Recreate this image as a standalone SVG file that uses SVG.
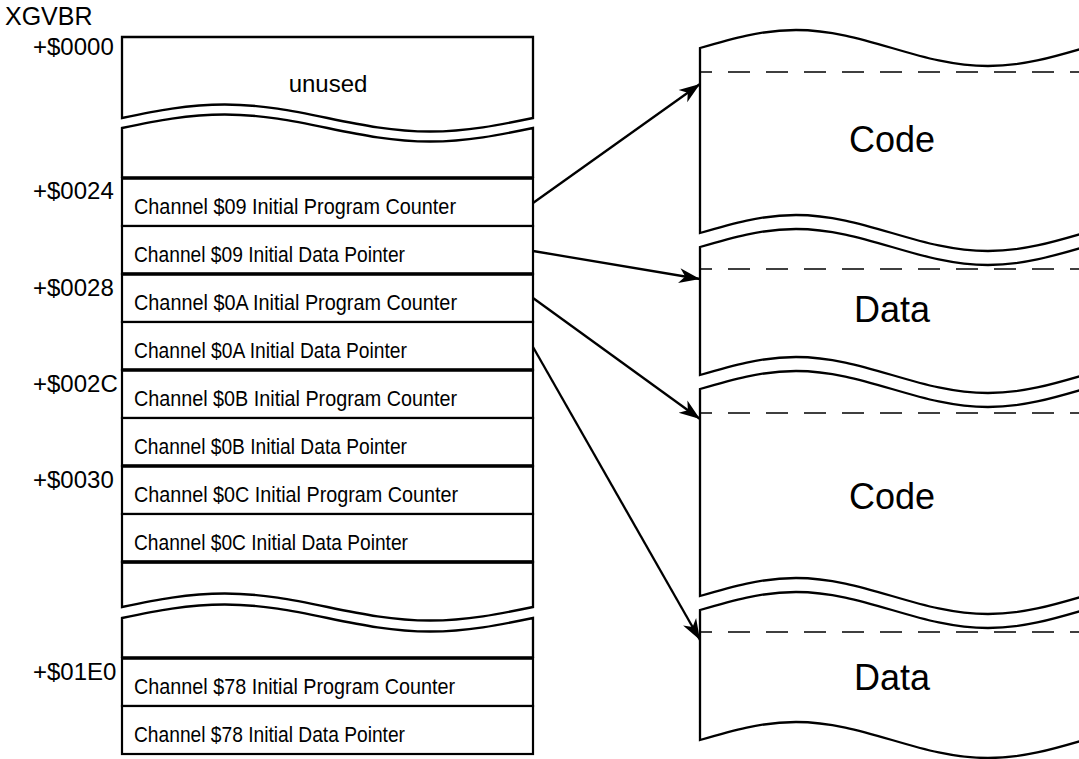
<svg xmlns="http://www.w3.org/2000/svg" width="1079" height="759" viewBox="0 0 1079 759">
<style>
  .ln { fill: none; stroke: #000; stroke-width: 2.3; stroke-linejoin: miter; }
  .box { fill: #fff; stroke: #000; stroke-width: 2.2; }
  .thick { stroke: #000; stroke-width: 3.4; }
  .dash { stroke: #000; stroke-width: 1.5; stroke-dasharray: 22 16; stroke-dashoffset: 10; fill: none; }
  .addr { font-family: "Liberation Sans", Arial, Helvetica, sans-serif; font-size: 24px; fill: #000; }
  .cell { font-family: "Liberation Sans", Arial, Helvetica, sans-serif; font-size: 22px; fill: #000; }
  .big { font-family: "Liberation Sans", Arial, Helvetica, sans-serif; font-size: 36px; fill: #000; text-anchor: middle; }
  .conn { stroke: #000; stroke-width: 2.3; fill: none; marker-end: url(#ah); }
</style>
<defs>
  <marker id="ah" markerUnits="userSpaceOnUse" markerWidth="26" markerHeight="18" refX="21" refY="9" orient="auto" viewBox="0 0 26 18">
    <path d="M0,1.5 L21,9 L0,16.5 L6,9 Z" fill="#000"/>
  </marker>
</defs>
<rect width="1079" height="759" fill="#fff"/>

<text x="5" y="25" class="addr" style="font-size:25px">XGVBR</text>

<g id="table">
  <g id="seg-unused">
    <path class="ln" d="M122,118 V37 H533 V118 C499.45,124.92 467.45,131.5 430.25,131.5 C393.1,131.5 361,124.92 327.5,118 C293.95,111.08 261.95,104.5 224.75,104.5 C187.6,104.5 155.5,111.08 122,118 Z"/>
    <text x="328" y="92" class="addr" text-anchor="middle">unused</text>
  </g>
  <g id="seg-gap1">
    <path class="ln" d="M122,178 V128 C155.5,121.08 187.6,114.5 224.75,114.5 C261.95,114.5 293.95,121.08 327.5,128 C361,134.92 393.1,141.5 430.25,141.5 C467.45,141.5 499.45,134.92 533,128 V178"/>
  </g>
  <g id="row-09-pc"><rect class="box" x="122" y="178" width="411" height="48"/><text class="cell" x="134" y="214" textLength="322" lengthAdjust="spacingAndGlyphs">Channel $09 Initial Program Counter</text></g>
  <g id="row-09-dp"><rect class="box" x="122" y="226" width="411" height="48"/><text class="cell" x="134" y="262" textLength="271" lengthAdjust="spacingAndGlyphs">Channel $09 Initial Data Pointer</text></g>
  <g id="row-0a-pc"><rect class="box" x="122" y="274" width="411" height="48"/><text class="cell" x="134" y="310" textLength="323" lengthAdjust="spacingAndGlyphs">Channel $0A Initial Program Counter</text></g>
  <g id="row-0a-dp"><rect class="box" x="122" y="322" width="411" height="48"/><text class="cell" x="134" y="358" textLength="273" lengthAdjust="spacingAndGlyphs">Channel $0A Initial Data Pointer</text></g>
  <g id="row-0b-pc"><rect class="box" x="122" y="370" width="411" height="48"/><text class="cell" x="134" y="406" textLength="323" lengthAdjust="spacingAndGlyphs">Channel $0B Initial Program Counter</text></g>
  <g id="row-0b-dp"><rect class="box" x="122" y="418" width="411" height="48"/><text class="cell" x="134" y="454" textLength="273" lengthAdjust="spacingAndGlyphs">Channel $0B Initial Data Pointer</text></g>
  <g id="row-0c-pc"><rect class="box" x="122" y="466" width="411" height="48"/><text class="cell" x="134" y="502" textLength="324" lengthAdjust="spacingAndGlyphs">Channel $0C Initial Program Counter</text></g>
  <g id="row-0c-dp"><rect class="box" x="122" y="514" width="411" height="48"/><text class="cell" x="134" y="550" textLength="274" lengthAdjust="spacingAndGlyphs">Channel $0C Initial Data Pointer</text></g>
  <g id="seg-gap2">
    <path class="ln" d="M122,607 V562 H533 V607 C499.45,613.92 467.45,620.5 430.25,620.5 C393.1,620.5 361,613.92 327.5,607 C293.95,600.08 261.95,593.5 224.75,593.5 C187.6,593.5 155.5,600.08 122,607 Z"/>
  </g>
  <g id="seg-gap3">
    <path class="ln" d="M122,658 V618 C155.5,611.08 187.6,604.5 224.75,604.5 C261.95,604.5 293.95,611.08 327.5,618 C361,624.92 393.1,631.5 430.25,631.5 C467.45,631.5 499.45,624.92 533,618 V658"/>
  </g>
  <g id="row-78-pc"><rect class="box" x="122" y="658" width="411" height="48"/><text class="cell" x="134" y="694" textLength="321" lengthAdjust="spacingAndGlyphs">Channel $78 Initial Program Counter</text></g>
  <g id="row-78-dp"><rect class="box" x="122" y="706" width="411" height="48"/><text class="cell" x="134" y="742" textLength="271" lengthAdjust="spacingAndGlyphs">Channel $78 Initial Data Pointer</text></g>
  <g id="thick-dividers">
    <line class="thick" x1="121" y1="178" x2="534" y2="178"/>
    <line class="thick" x1="121" y1="274" x2="534" y2="274"/>
    <line class="thick" x1="121" y1="370" x2="534" y2="370"/>
    <line class="thick" x1="121" y1="466" x2="534" y2="466"/>
    <line class="thick" x1="121" y1="562" x2="534" y2="562"/>
    <line class="thick" x1="121" y1="658" x2="534" y2="658"/>
  </g>
</g>

<g id="addresses">
  <text class="addr" x="33" y="55">+$0000</text>
  <text class="addr" x="33" y="199">+$0024</text>
  <text class="addr" x="33" y="296">+$0028</text>
  <text class="addr" x="33" y="392">+$002C</text>
  <text class="addr" x="33" y="488">+$0030</text>
  <text class="addr" x="33" y="680">+$01E0</text>
</g>

<g id="mem-code-1">
  <path class="ln" d="M1084,48 C1052.7,57.2 1022.7,66 988,66 C953.3,66 923.3,57.2 892,48 C860.7,38.8 830.7,30 796,30 C761.3,30 731.3,38.8 700,48 V233 C731.3,223.8 761.3,215 796,215 C830.7,215 860.7,223.8 892,233 C923.3,242.2 953.3,251 988,251 C1022.7,251 1052.7,242.2 1084,233"/>
  <line class="dash" x1="700" y1="72" x2="1079" y2="72"/>
  <text class="big" x="892" y="152">Code</text>
</g>
<g id="mem-data-1">
  <path class="ln" d="M1084,247 C1052.7,256.2 1022.7,265 988,265 C953.3,265 923.3,256.2 892,247 C860.7,237.8 830.7,229 796,229 C761.3,229 731.3,237.8 700,247 V375 C731.3,365.8 761.3,357 796,357 C830.7,357 860.7,365.8 892,375 C923.3,384.2 953.3,393 988,393 C1022.7,393 1052.7,384.2 1084,375"/>
  <line class="dash" x1="700" y1="269" x2="1079" y2="269"/>
  <text class="big" x="892" y="322">Data</text>
</g>
<g id="mem-code-2">
  <path class="ln" d="M1084,389 C1052.7,398.2 1022.7,407 988,407 C953.3,407 923.3,398.2 892,389 C860.7,379.8 830.7,371 796,371 C761.3,371 731.3,379.8 700,389 V596 C731.3,586.8 761.3,578 796,578 C830.7,578 860.7,586.8 892,596 C923.3,605.2 953.3,614 988,614 C1022.7,614 1052.7,605.2 1084,596"/>
  <line class="dash" x1="700" y1="413" x2="1079" y2="413"/>
  <text class="big" x="892" y="509">Code</text>
</g>
<g id="mem-data-2">
  <path class="ln" d="M1084,610 C1052.7,619.2 1022.7,628 988,628 C953.3,628 923.3,619.2 892,610 C860.7,600.8 830.7,592 796,592 C761.3,592 731.3,600.8 700,610 V740 C731.3,730.8 761.3,722 796,722 C830.7,722 860.7,730.8 892,740 C923.3,749.2 953.3,758 988,758 C1022.7,758 1052.7,749.2 1084,740"/>
  <line class="dash" x1="700" y1="632" x2="1079" y2="632"/>
  <text class="big" x="892" y="690">Data</text>
</g>

<g id="connectors">
  <line class="conn" x1="533" y1="203" x2="700" y2="84"/>
  <line class="conn" x1="533" y1="251" x2="700" y2="279"/>
  <line class="conn" x1="533" y1="298" x2="700" y2="419"/>
  <line class="conn" x1="533" y1="347" x2="700" y2="640"/>
</g>
</svg>
